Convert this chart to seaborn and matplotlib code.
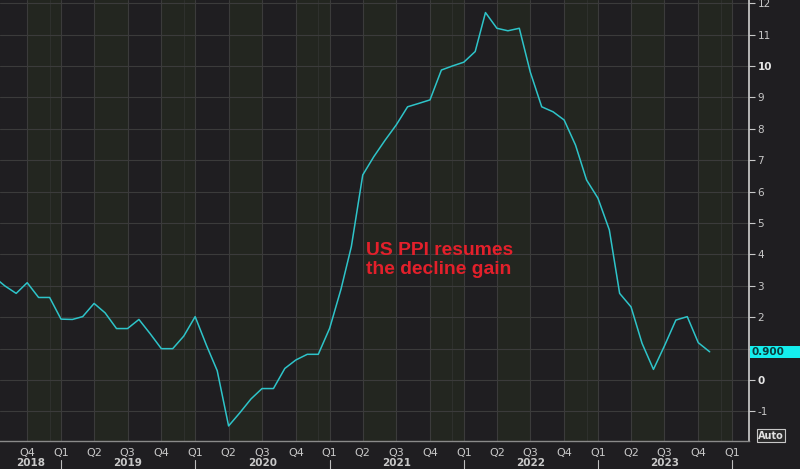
import matplotlib
matplotlib.use("Agg")
import matplotlib.pyplot as plt
from matplotlib.patches import Rectangle
from matplotlib.transforms import blended_transform_factory
import seaborn as sns
import pandas as pd

# ---------------- data ----------------
start_month = "2018-07-01"
end_month = "2023-11-01"
ppi_yoy = [
    3.30, 3.00, 2.76, 3.10, 2.63, 2.63,                                  # 2018 Jul-Dec
    1.94, 1.93, 2.02, 2.44, 2.14, 1.64, 1.64, 1.93, 1.47, 1.00, 1.00, 1.40,  # 2019
    2.02, 1.10, 0.30, -1.46, -1.05, -0.60, -0.27, -0.27, 0.37, 0.64, 0.82, 0.82,  # 2020
    1.65, 2.90, 4.25, 6.53, 7.11, 7.64, 8.12, 8.70, 8.81, 8.92, 9.87, 10.00,  # 2021
    10.12, 10.46, 11.70, 11.20, 11.12, 11.20, 9.80, 8.70, 8.54, 8.28, 7.48, 6.37,  # 2022
    5.79, 4.78, 2.76, 2.33, 1.17, 0.34, 1.09, 1.91, 2.02, 1.19, 0.90,  # 2023 Jan-Nov
]
y_ticks = list(range(-1, 13))
bold_ticks = [0, 10]
hidden_ticks = [1]  # covered by the last-value box in the reference
year_labels = ["2018", "2019", "2020", "2021", "2022", "2023"]
annotation = "US PPI resumes\nthe decline gain"
last_value_label = "0.900"

# ---------------- style ----------------
BG = "#1f1e21"
BAND = "#232620"
GRID = "#3b3b3b"
LINE = "#2ec4c9"
TXT = "#c8c8c8"

sns.set_theme(style="dark")
plt.rcParams["font.family"] = ["DejaVu Sans"]

W, H = 800, 469
fig = plt.figure(figsize=(8, 4.69), dpi=100, facecolor=BG)
ax_bottom_px = 440.7
ax = fig.add_axes([0, (H - ax_bottom_px) / H, 749 / W, ax_bottom_px / H])
ax.set_facecolor(BG)

dates = pd.date_range(start_month, end_month, freq="MS")
df = pd.DataFrame({"date": dates, "ppi": ppi_yoy})

xmin = pd.Timestamp("2018-07-19")
xmax = pd.Timestamp("2024-02-16")

# alternating quarter bands (Q2 and Q4 tinted)
qstarts = pd.date_range("2018-07-01", "2024-04-01", freq="QS")
for q in qstarts:
    if q.quarter in (2, 4):
        ax.axvspan(q, q + pd.DateOffset(months=3), color=BAND, zorder=0, lw=0)

# faint December lines
for yr in range(2018, 2024):
    ax.axvline(pd.Timestamp(f"{yr}-12-01"), color="#2e302d", lw=0.8, zorder=0.5)

sns.lineplot(data=df, x="date", y="ppi", ax=ax, color=LINE, linewidth=1.1, zorder=3)

ax.set_xlim(xmin, xmax)
ax.set_ylim(-1.93, 12.1)

# quarter ticks
qticks = pd.date_range("2018-10-01", "2024-01-01", freq="QS")
ax.set_xticks(qticks)
ax.set_xticklabels([f"Q{d.quarter}" for d in qticks])
ax.tick_params(axis="x", colors=TXT, labelsize=8, length=3, width=0.8, pad=2.5,
               direction="out", color="#9a9a9a")
ax.grid(True, axis="both", color=GRID, linewidth=0.8, zorder=1)

# y axis on the right
ax.yaxis.tick_right()
ax.set_yticks(y_ticks)
ax.set_yticklabels(["" if v in hidden_ticks else str(v) for v in y_ticks])
ax.tick_params(axis="y", colors=TXT, labelsize=7.5, length=4, width=0.8, pad=2,
               direction="out", color="#c8c8c8")
for lab, v in zip(ax.get_yticklabels(), y_ticks):
    if v in bold_ticks:
        lab.set_fontweight("bold")
        lab.set_color("#e6e6e6")
ax.set_xlabel("")
ax.set_ylabel("")

for s in ["top", "left"]:
    ax.spines[s].set_visible(False)
ax.spines["right"].set_color("#cfcfcf")
ax.spines["right"].set_linewidth(1.2)
ax.spines["bottom"].set_color("#8a8a8a")
ax.spines["bottom"].set_linewidth(1.0)

# year labels and separators
bt = blended_transform_factory(ax.transData, fig.transFigure)
year_pos = [pd.Timestamp("2018-10-10")] + [pd.Timestamp(f"{y}-07-02") for y in year_labels[1:]]
for lab, pos in zip(year_labels, year_pos):
    ax.text(pos, 1.5 / H, lab, transform=bt, ha="center", va="bottom",
            fontsize=7.5, fontweight="bold", color=TXT, clip_on=False)
for yr in range(2019, 2025):
    ax.plot([pd.Timestamp(f"{yr}-01-01")] * 2, [(H - 460) / H, 0], transform=bt,
            color="#bdbdbd", lw=0.8, clip_on=False)

# annotation
fig.text(366 / W, 1 - 242 / H, annotation, color="#e3202b", fontsize=13.9,
         fontweight="bold", ha="left", va="top", linespacing=1.12,
         family=["Liberation Sans", "DejaVu Sans"])

# last value box on the right axis
vb = blended_transform_factory(fig.transFigure, ax.transData)
last = ppi_yoy[-1]
ax.add_patch(Rectangle((749.5 / W, last - 0.2), 51 / W, 0.4, transform=vb,
                       facecolor="#14eeee", edgecolor="none", zorder=10,
                       clip_on=False))
ax.text(751 / W, last, last_value_label, transform=vb, ha="left", va="center",
        fontsize=7.5, fontweight="bold", color="#0b3c3c", zorder=11,
        clip_on=False)

# "Auto" button
fig.text(771 / W, (H - 435.5) / H, "Auto", ha="center", va="center", fontsize=7,
         fontweight="bold", color="#e0e0e0",
         bbox=dict(boxstyle="square,pad=0.15", facecolor="#2a2a2a",
                   edgecolor="#c8c8c8", linewidth=0.8))

fig.savefig("out.png", dpi=100, facecolor=BG)
